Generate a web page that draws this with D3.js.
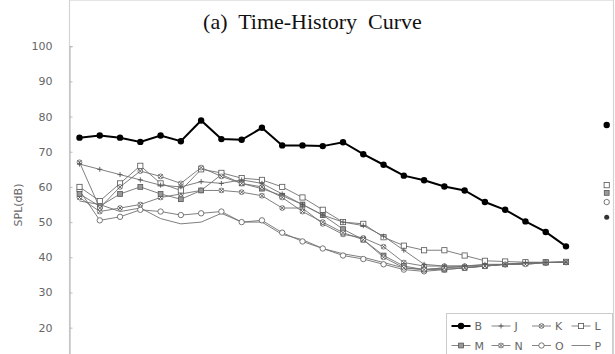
<!DOCTYPE html>
<html>
<head>
<meta charset="utf-8">
<script src="https://cdn.jsdelivr.net/npm/d3@7"></script>
<style>
  body { margin: 0; background: #fff; }
  svg { display: block; }
</style>
</head>
<body>
<svg id="chart" width="615" height="354"></svg>
<script>
// data (SPL in dB, 25 time steps)
var steps = d3.range(25);
var yTicks = [20, 30, 40, 50, 60, 70, 80, 90, 100];
var seriesNames = ["B", "J", "K", "L", "M", "N", "O", "P"];

var valB = [74, 74.6, 74, 72.8, 74.6, 73, 78.9, 73.6, 73.4, 76.8, 71.8, 71.8, 71.6, 72.7, 69.3, 66.3, 63.2, 61.9, 60.1, 59, 55.7, 53.5, 50.2, 47.2, 43.1];
var valJ = [66.5, 65, 63.5, 62, 60.5, 60, 61.5, 61, 62, 61, 58, 55, 52, 50, 49, 46, 42, 38, 37.5, 37.5, 38, 38, 38.5, 38.5, 38.6];
var valK = [67, 54, 60, 64.5, 63, 61, 65.5, 63, 61, 60, 57, 53, 50, 47, 45, 40, 37, 36.5, 37, 37, 37.5, 38, 38, 38.5, 38.6];
var valL = [60, 56, 61, 66, 61, 59, 65, 64, 62.5, 62, 60, 57, 53.5, 50, 49.5, 45.7, 43.3, 42, 42, 40.5, 39, 38.8, 38.6, 38.6, 38.7];
var valM = [58, 54.5, 58, 60, 58, 56.5, 59, 63.5, 61, 59.5, 57.5, 55, 52, 48, 45, 40.5, 37.5, 36.5, 36.5, 37, 37.5, 38, 38.3, 38.5, 38.6];
var valN = [57, 53, 54, 55, 57, 58, 59, 59, 58.5, 57.5, 54, 54, 49.5, 46.5, 45.5, 43, 38.5, 37.5, 37.5, 37.5, 37.8, 38, 38.3, 38.5, 38.6];
var valO = [59, 50.5, 51.5, 53.5, 53, 52, 52.5, 53, 50, 50.5, 47, 44.5, 42.5, 40.5, 39.5, 38, 36.5, 36, 36.5, 37, 37.5, 38, 38.3, 38.5, 38.6];
var valP = [56, 55, 53, 54, 51, 49.5, 50, 52.5, 50, 50, 46.5, 45, 42.5, 41, 40, 38.5, 37, 36.5, 37, 37.5, 37.5, 38, 38, 38.5, 38.6];
// stray key markers at the right edge of the plot (value on the y scale)
var sideKeyValues = [77.6, 60.5, 58.3, 55.7, 51.4];
var sideKeyShapes = ["dot", "square", "graySquare", "circle", "smallDot"];

var allValues = [valB, valJ, valK, valL, valM, valN, valO, valP];
var markers = ["dot", "plus", "star", "square", "graySquare", "star", "circle", "none"];

var svg = d3.select("#chart"),
    left = 69.5, right = 613.5, top = 45.5;

var x = d3.scaleLinear().domain([0, 24]).range([79.5, 566]);
var y = d3.scaleLinear().domain([0, 100]).range([398, 46.2]);

// title
svg.append("text")
    .attr("x", 312.5).attr("y", 28.5)
    .attr("text-anchor", "middle")
    .style("font-family", "'Liberation Serif', 'Times New Roman', serif")
    .style("font-size", "22px")
    .style("white-space", "pre")
    .attr("fill", "#111")
    .text("(a)  Time-History  Curve");

// plot frame
svg.append("rect")
    .attr("x", left).attr("y", top)
    .attr("width", right - left).attr("height", 420)
    .attr("fill", "none").attr("stroke", "#d4d4d4").attr("stroke-width", 1.2);

// y axis
var yAxis = d3.axisLeft(y).tickValues(yTicks).tickSize(-3).tickPadding(17);
var gy = svg.append("g").attr("transform", "translate(" + left + ",0)").call(yAxis);
gy.select(".domain").attr("stroke", "#bbb").attr("stroke-width", 1.2);
gy.selectAll(".tick line").attr("stroke", "#bbb");
gy.selectAll(".tick text")
    .attr("fill", "#666")
    .style("font-family", "'DejaVu Sans', sans-serif")
    .style("font-size", "11px");

svg.append("text")
    .attr("transform", "translate(22,205) rotate(-90)")
    .attr("text-anchor", "middle")
    .attr("fill", "#666")
    .style("font-family", "'DejaVu Sans', sans-serif")
    .style("font-size", "11px")
    .text("SPL(dB)");

function drawMarker(g, shape, cx, cy) {
    if (shape === "dot") {
        g.append("circle").attr("cx", cx).attr("cy", cy).attr("r", 3.2).attr("fill", "#000");
    } else if (shape === "smallDot") {
        g.append("circle").attr("cx", cx).attr("cy", cy).attr("r", 2.5).attr("fill", "#333");
    } else if (shape === "plus") {
        g.append("path").attr("d", "M" + (cx - 2.5) + "," + cy + "h5M" + cx + "," + (cy - 2.5) + "v5")
            .attr("stroke", "#555").attr("stroke-width", 0.9);
    } else if (shape === "star") {
        g.append("circle").attr("cx", cx).attr("cy", cy).attr("r", 2.4).attr("fill", "#fff").attr("stroke", "#666").attr("stroke-width", 0.8);
        g.append("path").attr("d", "M" + (cx - 2) + "," + (cy - 2) + "l4,4M" + (cx - 2) + "," + (cy + 2) + "l4,-4")
            .attr("stroke", "#444").attr("stroke-width", 0.8);
    } else if (shape === "square") {
        g.append("rect").attr("x", cx - 2.6).attr("y", cy - 2.6).attr("width", 5.2).attr("height", 5.2)
            .attr("fill", "#fff").attr("stroke", "#555").attr("stroke-width", 0.8);
    } else if (shape === "graySquare") {
        g.append("rect").attr("x", cx - 2.4).attr("y", cy - 2.4).attr("width", 4.8).attr("height", 4.8)
            .attr("fill", "#999").attr("stroke", "#555").attr("stroke-width", 0.8);
    } else if (shape === "circle") {
        g.append("circle").attr("cx", cx).attr("cy", cy).attr("r", 2.7)
            .attr("fill", "#fff").attr("stroke", "#555").attr("stroke-width", 0.8);
    }
}

var line = d3.line().x(function (d, i) { return x(steps[i]); }).y(function (d) { return y(d); });

// grey series first, B on top
for (var s = allValues.length - 1; s >= 0; s--) {
    var g = svg.append("g");
    var isB = s === 0;
    g.append("path")
        .datum(allValues[s])
        .attr("d", line)
        .attr("fill", "none")
        .attr("stroke", isB ? "#000" : "#707070")
        .attr("stroke-width", isB ? 2 : 0.9);
    allValues[s].forEach(function (v, i) {
        drawMarker(g, markers[s], x(steps[i]), y(v));
    });
}

// stray keys on the right edge
sideKeyValues.forEach(function (v, i) {
    drawMarker(svg, sideKeyShapes[i], 606.7, y(v));
});

// legend
var lg = svg.append("g");
lg.append("rect")
    .attr("x", 446.5).attr("y", 313.5).attr("width", 166).attr("height", 60)
    .attr("fill", "#fff").attr("stroke", "#ccc").attr("stroke-width", 1);
var colX = [451.5, 491.5, 532, 571.5], rowY = [326, 345.5];
seriesNames.forEach(function (name, i) {
    var lx = colX[i % 4], ly = rowY[Math.floor(i / 4)];
    lg.append("line")
        .attr("x1", lx).attr("x2", lx + 19).attr("y1", ly).attr("y2", ly)
        .attr("stroke", i === 0 ? "#000" : "#777")
        .attr("stroke-width", i === 0 ? 2 : 0.9);
    drawMarker(lg, markers[i], lx + 9.5, ly);
    lg.append("text")
        .attr("x", lx + 23).attr("y", ly + 4)
        .attr("fill", "#666")
        .style("font-family", "'DejaVu Sans', sans-serif")
        .style("font-size", "11px")
        .text(name);
});
</script>
</body>
</html>
